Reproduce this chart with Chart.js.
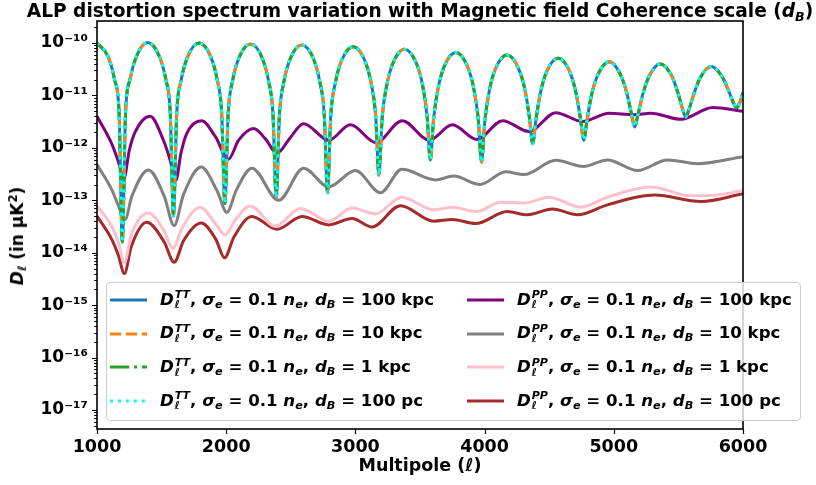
<!DOCTYPE html>
<html>
<head>
<meta charset="utf-8">
<script src="https://cdn.jsdelivr.net/npm/chart.js@4/dist/chart.umd.min.js"></script>
<style>
  body { margin: 0; background: #fff; }
  #wrap { position: relative; width: 816px; height: 485px; font-family: "DejaVu Sans", sans-serif; font-weight: bold; color: #000; }
  #chart { position: absolute; left: 0; top: 0; }
  i { font-style: italic; }
  sub, sup { font-size: 0.68em; line-height: 0; }
  sub { vertical-align: -0.3em; }
  sup { vertical-align: 0.55em; }
  .title { position: absolute; left: 0; width: 840px; top: 0px; text-align: center; font-size: 18.6px; white-space: nowrap; }
  .ytitle { position: absolute; left: 17px; top: 236px; font-size: 17px; white-space: nowrap; transform: translate(-50%, -50%) rotate(-90deg); }
  #legend { position: absolute; left: 106px; top: 282px; width: 693px; height: 137px; border: 1px solid #cccccc; border-radius: 4px; background: rgba(255,255,255,0.8); }
  .item { position: absolute; height: 22px; display: flex; align-items: center; font-size: 16.6px; white-space: nowrap; }
  .item svg { flex: none; }
  .item .txt { margin-left: 13px; }
  .ss { display: inline-flex; flex-direction: column; font-size: 11px; line-height: 10px; vertical-align: middle; font-style: italic; margin-left: 1px; }
</style>
</head>
<body>
<div id="wrap">
  <canvas id="chart" width="816" height="485"></canvas>
  <div class="title">ALP distortion spectrum variation with Magnetic field Coherence scale (<i>d</i><sub><i>B</i></sub>)</div>
  <div class="ytitle"><i>D</i><sub><i>ℓ</i></sub> (in μK<sup>2</sup>)</div>
  <div id="legend"></div>
</div>
<script>
// ---- data ----
const xTicks = [1000, 2000, 3000, 4000, 5000, 6000];
const yExponents = [-17, -16, -15, -14, -13, -12, -11, -10];
const coherence = ['100 kpc', '10 kpc', '1 kpc', '100 pc'];

// D_l^TT (the four coherence scales lie on top of each other)
const ellTT = [1000, 1086, 1136, 1171, 1196, 1221, 1256, 1306, 1393,
  1482, 1532, 1567, 1592, 1617, 1652, 1702, 1790,
  1880, 1930, 1965, 1990, 2015, 2050, 2100, 2188,
  2277, 2327, 2362, 2387, 2412, 2447, 2497, 2585,
  2674, 2724, 2759, 2784, 2809, 2844, 2894, 2983,
  3072, 3122, 3157, 3182, 3207, 3242, 3292, 3380,
  3470, 3520, 3555, 3580, 3605, 3640, 3690, 3777,
  3866, 3916, 3951, 3976, 4001, 4036, 4086, 4174,
  4262, 4312, 4347, 4372, 4397, 4432, 4482, 4570,
  4657, 4707, 4742, 4767, 4792, 4827, 4877, 4965,
  5052, 5102, 5137, 5162, 5187, 5222, 5272, 5360,
  5447, 5497, 5532, 5557, 5582, 5617, 5667, 5755,
  5842, 5892, 5927, 5952, 5977, 6000];
const ttVals = [1.0e-10, 5.5e-11, 2.0e-11, 4.5e-12, 1.6e-14, 4.6e-12, 2.05e-11, 5.6e-11, 1.02e-10,
  5.6e-11, 2.05e-11, 4.6e-12, 5e-14, 4.5e-12, 2.0e-11, 5.5e-11, 1.0e-10,
  5.5e-11, 2.0e-11, 4.6e-12, 8.7e-14, 4.4e-12, 1.93e-11, 5.3e-11, 9.6e-11,
  5.3e-11, 1.93e-11, 4.4e-12, 1.1e-13, 4.2e-12, 1.85e-11, 5.1e-11, 9.2e-11,
  5.1e-11, 1.85e-11, 4.3e-12, 1.4e-13, 3.95e-12, 1.71e-11, 4.7e-11, 8.5e-11,
  4.7e-11, 1.72e-11, 4.1e-12, 3e-13, 3.7e-12, 1.54e-11, 4.2e-11, 7.6e-11,
  4.2e-11, 1.57e-11, 4.0e-12, 5.9e-13, 3.5e-12, 1.37e-11, 3.7e-11, 6.6e-11,
  3.65e-11, 1.36e-11, 3.5e-12, 5.3e-13, 3.1e-12, 1.22e-11, 3.3e-11, 5.9e-11,
  3.3e-11, 1.3e-11, 3.8e-12, 1.2e-12, 3.4e-12, 1.12e-11, 2.9e-11, 5.1e-11,
  2.9e-11, 1.13e-11, 3.6e-12, 1.4e-12, 3.3e-12, 1.0e-11, 2.5e-11, 4.4e-11,
  2.5e-11, 1.08e-11, 4.4e-12, 2.5e-12, 4.3e-12, 1.0e-11, 2.3e-11, 4.0e-11,
  2.4e-11, 1.11e-11, 5.5e-12, 3.9e-12, 5.4e-12, 1.02e-11, 2.13e-11, 3.55e-11,
  2.2e-11, 1.17e-11, 7.1e-12, 5.8e-12, 7.5e-12, 1.15e-11];

// D_l^PP, d_B = 100 kpc
const ellPP100kpc = [1000, 1114, 1165, 1208, 1250, 1295, 1411, 1514, 1565, 1610, 1650, 1695, 1811, 1915,
  2018, 2096, 2212, 2302, 2393, 2490, 2599, 2793, 2961, 3160, 3362, 3572, 3750, 3940, 4140,
  4344, 4551, 4757, 4964, 5158, 5287, 5520, 5765, 6000];
const pp100kpc = [4.0e-12, 1.2e-12, 5.5e-13, 2.6e-13, 9e-13, 2.0e-12, 4.0e-12, 1.4e-12, 6e-13, 2.4e-13, 8e-13, 1.9e-12, 3.3e-12, 1.65e-12,
  6.1e-13, 1.4e-12, 2.35e-12, 1.5e-12, 7.9e-13, 1.5e-12, 2.9e-12, 1.4e-12, 2.75e-12, 1.26e-12, 3.3e-12, 1.4e-12, 2.75e-12, 1.45e-12, 3.3e-12,
  2.05e-12, 4.7e-12, 3.2e-12, 4.6e-12, 4.3e-12, 4.6e-12, 3.5e-12, 5.9e-12, 5.0e-12];

// D_l^PP, d_B = 10 kpc
const ellPP10kpc = [1000, 1114, 1165, 1217, 1270, 1398, 1520, 1597, 1670, 1806, 1930, 2005, 2080, 2199,
  2406, 2599, 2793, 3000, 3194, 3360, 3620, 3762, 3964, 4163, 4305, 4551, 4765, 4951, 5184, 5416, 5649, 6000];
const pp10kpc = [4.8e-13, 1.6e-13, 8e-14, 4.3e-14, 1.2e-13, 3.8e-13, 1.2e-13, 3.3e-14, 1.3e-13, 4.3e-13, 1.5e-13, 5.9e-14, 1.6e-13, 4.1e-13,
  1.0e-13, 4.1e-13, 1.8e-13, 3.7e-13, 1.4e-13, 3.9e-13, 2.45e-13, 2.9e-13, 2.0e-13, 3.5e-13, 3.1e-13, 5.8e-13, 4.4e-13, 5.9e-13, 3.7e-13, 5.9e-13, 5.0e-13, 6.8e-13];

// D_l^PP, d_B = 1 kpc
const ellPP1kpc = [1000, 1114, 1165, 1212, 1265, 1398, 1520, 1587, 1660, 1798, 1920, 1992, 2070, 2186,
  2380, 2574, 2793, 2974, 3155, 3360, 3607, 3750, 3938, 4124, 4305, 4499, 4744, 4951, 5287, 5597, 5804, 6000];
const pp1kpc = [7.8e-14, 3.2e-14, 1.6e-14, 6.5e-15, 2.2e-14, 5.7e-14, 2.6e-14, 1.2e-14, 3.0e-14, 7.4e-14, 3.5e-14, 2.2e-14, 4.2e-14, 7.8e-14,
  3.2e-14, 7.0e-14, 4.0e-14, 7.1e-14, 5.5e-14, 1.15e-13, 6.6e-14, 7.4e-14, 6.1e-14, 9.2e-14, 8.9e-14, 1.15e-13, 7.4e-14, 1.15e-13, 1.8e-13, 1.22e-13, 1.27e-13, 1.53e-13];

// D_l^PP, d_B = 100 pc
const ellPP100pc = [1000, 1114, 1165, 1212, 1265, 1385, 1520, 1597, 1670, 1806, 1920, 1987, 2060, 2199,
  2393, 2587, 2793, 2974, 3129, 3349, 3607, 3750, 3930, 4176, 4331, 4525, 4719, 4951, 5313, 5675, 6000];
const pp100pc = [5.0e-14, 1.8e-14, 9e-15, 4.0e-15, 1.3e-14, 3.8e-14, 1.6e-14, 6.6e-15, 1.7e-14, 3.7e-14, 1.8e-14, 8.0e-15, 2.0e-14, 4.9e-14,
  2.8e-14, 4.9e-14, 3.4e-14, 4.5e-14, 3.1e-14, 7.9e-14, 4.0e-14, 4.3e-14, 3.6e-14, 6.1e-14, 5.3e-14, 6.8e-14, 5.3e-14, 8.2e-14, 1.26e-13, 9.5e-14, 1.33e-13];

// ---- styles ----
const LW = 3;
const ttStyles = [
  { color: '#1f77b4', dash: [] },
  { color: '#ff7f0e', dash: [11.1, 4.8] },
  { color: '#2ca02c', dash: [19.2, 4.8, 3, 4.8] },
  { color: '#00ffff', dash: [3, 4.95] }
];
const ppColors = ['#800080', '#808080', '#ffc0cb', '#a52a2a'];
const ppSeries = [[ellPP100kpc, pp100kpc], [ellPP10kpc, pp10kpc], [ellPP1kpc, pp1kpc], [ellPP100pc, pp100pc]];

function toPoints(ell, vals) {
    return ell.map((x, i) => ({ x: x, y: vals[i] }));
}

const datasets = [];
ttStyles.forEach((s, i) => {
    datasets.push({
        label: 'TT ' + coherence[i],
        data: toPoints(ellTT, ttVals),
        borderColor: s.color,
        borderDash: s.dash,
        order: 4 - i
    });
});
ppSeries.forEach((p, i) => {
    datasets.push({
        label: 'PP ' + coherence[i],
        data: toPoints(p[0], p[1]),
        borderColor: ppColors[i],
        borderDash: [],
        order: 5 + i
    });
});
datasets.forEach(d => {
    d.borderWidth = LW;
    d.pointRadius = 0;
    d.fill = false;
    d.cubicInterpolationMode = 'monotone';
    d.borderJoinStyle = 'round';
});

const supMap = { '-': '⁻', '0': '⁰', '1': '¹', '2': '²', '3': '³', '4': '⁴', '5': '⁵', '6': '⁶', '7': '⁷', '8': '⁸', '9': '⁹' };
const FONT = "'DejaVu Sans', sans-serif";

// spines + tick marks (major and log-minor)
const frame = {
    id: 'frame',
    afterDatasetsDraw(chart) {
        const { ctx, chartArea: a, scales: { x, y } } = chart;
        ctx.save();
        ctx.strokeStyle = '#000';
        ctx.lineWidth = 1.2;
        ctx.beginPath();
        xTicks.forEach(v => {
            const px = Math.round(x.getPixelForValue(v)) + 0.5;
            ctx.moveTo(px, a.bottom); ctx.lineTo(px, a.bottom + 5);
        });
        for (let e = -18; e <= -10; e++) {
            for (let m = 1; m < 10; m++) {
                const v = m * Math.pow(10, e);
                if (v < y.min || v > y.max) continue;
                const py = Math.round(y.getPixelForValue(v)) + 0.5;
                ctx.moveTo(a.left, py); ctx.lineTo(a.left - (m === 1 ? 5 : 2.8), py);
            }
        }
        ctx.stroke();
        ctx.lineWidth = 1.6;
        ctx.strokeRect(a.left, a.top, a.right - a.left, a.bottom - a.top);
        ctx.restore();
    }
};

new Chart(document.getElementById('chart'), {
    type: 'line',
    data: { datasets: datasets },
    options: {
        responsive: false,
        animation: false,
        devicePixelRatio: 1,
        layout: { padding: { left: 0, right: 73, top: 21, bottom: 0 } },
        plugins: { legend: { display: false }, tooltip: { enabled: false } },
        scales: {
            x: {
                type: 'linear',
                min: 1000,
                max: 6000,
                afterBuildTicks: s => { s.ticks = xTicks.map(v => ({ value: v })); },
                afterFit: s => { s.height = 56; },
                grid: { display: true, drawOnChartArea: false, drawTicks: true, tickLength: 5, color: 'rgba(0,0,0,0)' },
                border: { display: false },
                ticks: {
                    color: '#000', padding: 3, maxRotation: 0,
                    font: { family: FONT, size: 17.5, weight: 'bold' },
                    callback: v => String(v)
                },
                title: { display: true, text: 'Multipole (ℓ)', color: '#000', padding: { top: 0, bottom: 8 }, font: { family: FONT, size: 17.5, weight: 'bold' } }
            },
            y: {
                type: 'logarithmic',
                min: 4.35e-18,
                max: 2.63e-10,
                afterBuildTicks: s => { s.ticks = yExponents.map(e => ({ value: Math.pow(10, e) })); },
                afterFit: s => { s.width = 97; },
                grid: { display: true, drawOnChartArea: false, drawTicks: true, tickLength: 5, color: 'rgba(0,0,0,0)' },
                border: { display: false },
                ticks: {
                    color: '#000', padding: 4,
                    font: { family: FONT, size: 17, weight: 'bold' },
                    callback: v => '10' + String(Math.round(Math.log10(v))).split('').map(c => supMap[c]).join('')
                }
            }
        }
    },
    plugins: [frame]
});

// ---- legend (two columns, TT left, PP right) ----
const legend = document.getElementById('legend');
function handle(color, dash) {
    return '<svg width="37" height="10"><line x1="0" y1="5" x2="37" y2="5" stroke="' + color +
        '" stroke-width="' + LW + '" stroke-dasharray="' + (dash.length ? dash.join(',') : 'none') + '"/></svg>';
}
function labelHtml(kind, scale) {
    return '<i>D</i><span class="ss"><span>' + kind + '</span><span>ℓ</span></span>, ' +
        '<i>σ</i><sub><i>e</i></sub> = 0.1 <i>n</i><sub><i>e</i></sub>, <i>d</i><sub><i>B</i></sub> = ' + scale;
}
coherence.forEach((c, row) => {
    [['TT', ttStyles[row].color, ttStyles[row].dash], ['PP', ppColors[row], []]].forEach((e, col) => {
        const div = document.createElement('div');
        div.className = 'item';
        div.style.left = (3 + col * 357) + 'px';
        div.style.top = (6 + row * 33.7) + 'px';
        div.innerHTML = handle(e[1], e[2]) + '<span class="txt">' + labelHtml(e[0], c) + '</span>';
        legend.appendChild(div);
    });
});
</script>
</body>
</html>
